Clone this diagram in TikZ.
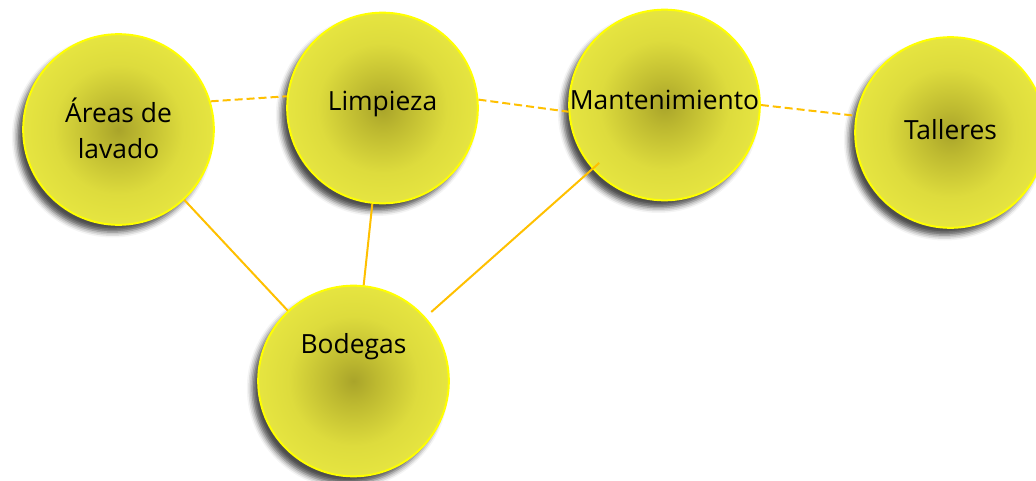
\documentclass[tikz,border=0pt]{standalone}
\usepackage{fontspec}
\setmainfont{Open Sans}
\usetikzlibrary{shadows.blur,calc}
\definecolor{cin}{HTML}{A9A42A}
\definecolor{cmid}{HTML}{BDB930}
\definecolor{cout}{HTML}{EAE942}
\definecolor{rimc}{HTML}{FFFF00}
\definecolor{linkc}{HTML}{FFC000}
\pgfdeclareradialshading{ballshade}{\pgfpoint{0bp}{0bp}}{color(0bp)=(cin); color(6bp)=(cmid); color(17bp)=(cout!72!cmid); color(29bp)=(cout); color(50bp)=(cout)}
\tikzset{
  ball/.style={circle, minimum size=143pt, inner sep=0pt, shading=ballshade, draw=rimc, line width=1.5pt,
    blur shadow={shadow xshift=-4.5pt, shadow yshift=-5.5pt, shadow blur radius=4pt, shadow opacity=70}},
  txt/.style={font=\fontsize{19.8}{27}\selectfont, text=black, align=center},
  dashlink/.style={draw=linkc, line width=1.5pt, dash pattern=on 6pt off 3pt},
  solidlink/.style={draw=linkc, line width=1.5pt}
}
\begin{document}
\begin{tikzpicture}[x=0.75pt,y=-0.75pt]
\useasboundingbox (0,0) rectangle (1036,481);
\clip (0,0) rectangle (1036,481);
\node[ball, label={[txt,yshift=1pt]center:Áreas de\\lavado}] (A) at (118.5,129.5) {};
\node[ball, label={[txt,yshift=3pt]center:Limpieza}] (L) at (382.5,108) {};
\node[ball, label={[txt,yshift=4pt]center:Mantenimiento}] (M) at (664.5,105) {};
\node[ball, label={[txt,yshift=2pt]center:Talleres}] (T) at (950.5,132.5) {};
\node[ball, label={[txt,yshift=26pt]center:Bodegas}] (B) at (353.5,381) {};
\draw[dashlink] (A.17.5) -- (L.173);
\draw[dashlink] (L.5.4) -- (M.184.8);
\draw[dashlink] (M.0.6) -- (T.170);
\draw[solidlink] (A) -- (B);
\draw[solidlink] (L) -- (B);
\draw[solidlink] ($(M)!0.21!(B)$) -- ($(M)!0.75!(B)$);
\end{tikzpicture}
\end{document}
